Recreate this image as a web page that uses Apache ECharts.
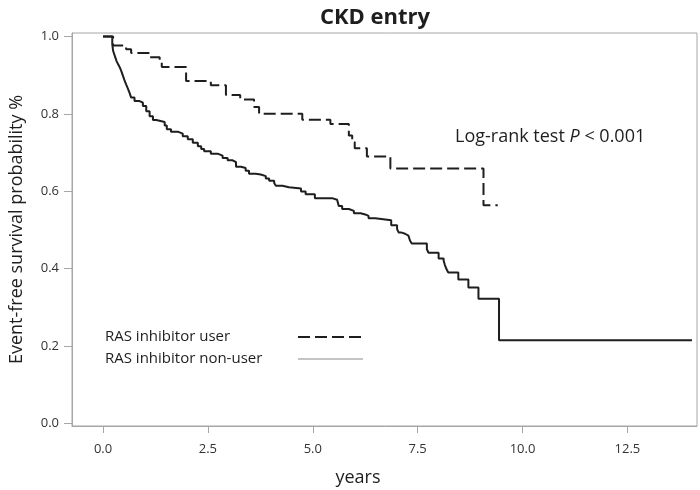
<!DOCTYPE html>
<html>
<head>
<meta charset="utf-8">
<script src="https://cdn.jsdelivr.net/npm/echarts@6/dist/echarts.min.js"></script>
<style>
html,body{margin:0;padding:0;background:#fff;}
#chart{width:700px;height:490px;}
</style>
</head>
<body>
<div id="chart"></div>
<script>
// ---- data ----
const xTicks = [0, 2.5, 5, 7.5, 10, 12.5];
const yTicks = [0, 0.2, 0.4, 0.6, 0.8, 1.0];

const userTimes = [0, 0.24, 0.55, 0.67, 1.11, 1.35, 1.40, 1.98, 2.57, 2.93, 3.27, 3.60, 3.72, 4.75, 5.42, 5.86, 5.94, 6.00, 6.29, 6.85, 9.07, 9.41];
const userSurv  = [1.0, 0.977, 0.967, 0.957, 0.946, 0.934, 0.921, 0.885, 0.874, 0.849, 0.837, 0.818, 0.800, 0.785, 0.774, 0.744, 0.727, 0.711, 0.690, 0.659, 0.564, 0.564];

const nonUserTimes = [0, 0.22, 0.24, 0.28, 0.32, 0.36, 0.40, 0.44, 0.475, 0.51, 0.55, 0.59, 0.63, 0.67, 0.75, 0.87, 0.95, 1.03, 1.11, 1.19, 1.27, 1.47, 1.52, 1.62, 1.78, 1.90, 2.02, 2.14, 2.26, 2.34, 2.41, 2.57, 2.73, 2.85, 2.97, 3.09, 3.17, 3.29, 3.40, 3.48, 3.64, 3.76, 3.88, 3.96, 4.08, 4.12, 4.28, 4.43, 4.72, 4.83, 5.05, 5.46, 5.58, 5.62, 5.70, 5.86, 5.98, 6.14, 6.25, 6.33, 6.49, 6.87, 7.01, 7.05, 7.12, 7.20, 7.28, 7.32, 7.36, 7.72, 7.76, 8.00, 8.12, 8.15, 8.19, 8.23, 8.47, 8.71, 8.95, 9.44, 14.04];
const nonUserSurv  = [1.0, 0.98, 0.963, 0.95, 0.937, 0.928, 0.920, 0.909, 0.898, 0.887, 0.876, 0.866, 0.855, 0.842, 0.833, 0.829, 0.820, 0.807, 0.794, 0.784, 0.779, 0.770, 0.760, 0.754, 0.749, 0.742, 0.734, 0.725, 0.716, 0.709, 0.703, 0.697, 0.692, 0.686, 0.680, 0.675, 0.663, 0.660, 0.653, 0.645, 0.643, 0.639, 0.633, 0.627, 0.621, 0.614, 0.610, 0.607, 0.599, 0.592, 0.582, 0.578, 0.573, 0.562, 0.554, 0.549, 0.543, 0.540, 0.536, 0.530, 0.525, 0.512, 0.502, 0.493, 0.490, 0.485, 0.480, 0.472, 0.465, 0.450, 0.441, 0.426, 0.420, 0.409, 0.398, 0.390, 0.372, 0.351, 0.322, 0.215, 0.215];

const seriesNames = ['RAS inhibitor user', 'RAS inhibitor non-user'];
const titleText = 'CKD entry';
const xName = 'years';
const yName = 'Event-free survival probability %';

// ---- build ----
const zip = (a, b) => a.map((v, i) => [v, b[i]]);
const FONT = '"Open Sans", "Noto Sans", sans-serif';
const AX = '#a6a6a6';
const INK = '#1e1e1e';

const chart = echarts.init(document.getElementById('chart'), null, {renderer: 'canvas'});
chart.setOption({
  backgroundColor: '#fff',
  animation: false,
  title: {
    text: titleText, left: 370, top: 2, textAlign: 'center',
    textStyle: {fontFamily: FONT, fontSize: 22, fontWeight: 'bold', color: INK}
  },
  grid: {left: 68, right: 3, top: 33, bottom: 64, show: true, borderColor: AX, borderWidth: 1, containLabel: false},
  xAxis: {
    type: 'value', min: -0.74, max: 14.16,
    axisLine: {show: true, onZero: false, lineStyle: {color: AX, width: 1}},
    axisTick: {show: true, customValues: xTicks, length: 7, lineStyle: {color: AX}},
    axisLabel: {customValues: xTicks, margin: 17, color: '#333', fontSize: 13, fontFamily: FONT,
      formatter: v => Number(v).toFixed(1)},
    splitLine: {show: false}
  },
  yAxis: {
    type: 'value', min: -0.007, max: 1.009,
    name: yName, nameLocation: 'middle', nameRotate: 90, nameGap: 46,
    nameTextStyle: {fontFamily: FONT, fontSize: 18, color: INK},
    axisLine: {show: true, onZero: false, lineStyle: {color: AX, width: 1}},
    axisTick: {show: true, customValues: yTicks, length: 8, lineStyle: {color: AX}},
    axisLabel: {customValues: yTicks, margin: 13, color: '#333', fontSize: 13, fontFamily: FONT,
      formatter: v => Number(v).toFixed(1)},
    splitLine: {show: false}
  },
  series: [
    {
      name: seriesNames[1], type: 'line', step: 'end', symbol: 'none',
      data: zip(nonUserTimes, nonUserSurv),
      lineStyle: {color: INK, width: 2}
    },
    {
      name: seriesNames[0], type: 'line', step: 'end', symbol: 'none',
      data: zip(userTimes, userSurv),
      lineStyle: {color: INK, width: 2, type: [12, 5]}
    }
  ],
  graphic: [
    {type: 'text', x: 358, y: 478, style: {text: xName, font: '18px ' + FONT, fill: INK, align: 'center', verticalAlign: 'middle'}},
    {type: 'text', x: 455, y: 137, style: {
      text: 'Log-rank test {i|P} < 0.001', font: '18px ' + FONT, fill: INK, align: 'left', verticalAlign: 'middle',
      rich: {i: {fontStyle: 'italic', fontSize: 18, fontFamily: FONT, fill: INK}}
    }},
    {type: 'text', x: 105, y: 337, style: {text: seriesNames[0], font: '15px ' + FONT, fill: INK, align: 'left', verticalAlign: 'middle'}},
    {type: 'text', x: 105, y: 359, style: {text: seriesNames[1], font: '15px ' + FONT, fill: INK, align: 'left', verticalAlign: 'middle'}},
    {type: 'line', shape: {x1: 298, y1: 337, x2: 363, y2: 337}, style: {stroke: INK, lineWidth: 2, lineDash: [12, 5]}},
    {type: 'line', shape: {x1: 298, y1: 359, x2: 363, y2: 359}, style: {stroke: '#8a8a8a', lineWidth: 1}}
  ]
});
</script>
</body>
</html>
